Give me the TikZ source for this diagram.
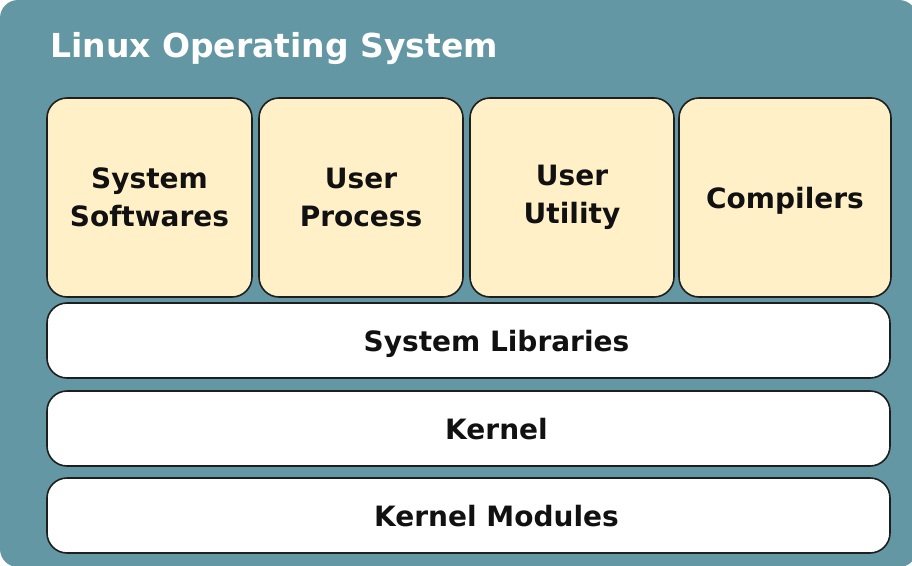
\documentclass[tikz,border=0pt]{standalone}
\usepackage{fontspec}
\setsansfont{DejaVu Sans}
\usepackage{tikz}
\usetikzlibrary{positioning}
\definecolor{colorBg}{RGB}{99,151,164}
\definecolor{colorApp}{RGB}{255,240,200}
\definecolor{colorEdge}{RGB}{30,30,30}
\definecolor{colorText}{RGB}{17,17,17}
\tikzstyle{appNode} = [rectangle, rounded corners=20pt, draw=colorEdge, line width=1.6pt, fill=colorApp, outer sep=0pt, minimum width=204pt, minimum height=199pt, align=center, anchor=west]
\tikzstyle{layerNode} = [rectangle, rounded corners=20pt, draw=colorEdge, line width=1.6pt, fill=white, outer sep=0pt, minimum width=843pt, minimum height=75pt, text depth=0pt, anchor=north west, execute at begin node={\hspace*{56pt}}]

\begin{document}
\begin{tikzpicture}[x=1pt, y=1pt, font=\sffamily\bfseries\fontsize{28}{38}\selectfont, text=colorText]

	\useasboundingbox (0,0) rectangle (912,-565);
	\fill[colorBg, rounded corners=18pt] (0,0) rectangle (917,-567);

	\node[anchor=base west, inner sep=0pt, text=white, font=\sffamily\bfseries\fontsize{33}{40}\selectfont](Title) at (50,-57){Linux Operating System};

	\node[appNode, minimum width=205pt](App-Sys) at (47,-197.5){System\\Softwares};

	\node[appNode]at([xshift=7pt]App-Sys.east)(App-Proc){User\\Process};

	\node[appNode]at([xshift=7pt]App-Proc.east)(App-Util){User\\Utility};

	\node[appNode, minimum width=212pt, text depth=0pt]at([xshift=5pt]App-Util.east)(App-Comp){Compilers};


	\node[layerNode]at([yshift=-6pt]App-Sys.south west)(Layer-Lib){System Libraries};

	\node[layerNode]at([yshift=-13pt]Layer-Lib.south west)(Layer-Kernel){Kernel};

	\node[layerNode]at([yshift=-12pt]Layer-Kernel.south west)(Layer-Mod){Kernel Modules};

\end{tikzpicture}
\end{document}
